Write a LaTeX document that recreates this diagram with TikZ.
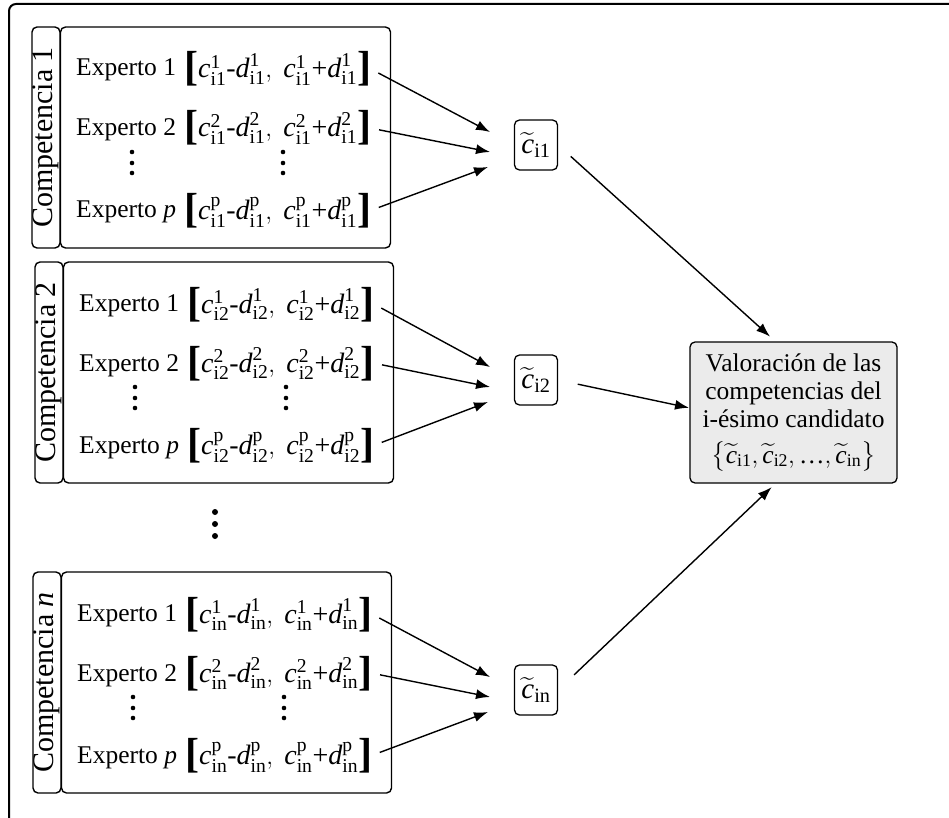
\documentclass[tikz,border=0pt]{standalone}
\usepackage{amsmath}
\usepackage{fontspec}
\setmainfont{Liberation Serif}
\usetikzlibrary{arrows.meta}
\newcommand\vc{\text{\itshape c}}
\newcommand\vd{\text{\itshape d}}
\newcommand\lbrk{\raisebox{-3pt}{\fontsize{42}{42}\selectfont\bfseries[}}
\newcommand\rbrk{\raisebox{-3pt}{\fontsize{42}{42}\selectfont\bfseries]}}
\newcommand\ival[2]{\lbrk$\vc^{\text{#1}}_{\text{#2}}\text{-}\vd^{\text{#1}}_{\text{#2}},\ \vc^{\text{#1}}_{\text{#2}}\text{+}\vd^{\text{#1}}_{\text{#2}}$\rbrk}
\newcommand\compblock[5]{%
  \node[tabbox] (t#1) at ({46+#5},{#2+110.5}) {#3};
  \node[mainbox] (m#1) at ({225.5+#5},{#2+110.5}) {};
  \node[rowtxt] (ea#1) at ({76+#5},{#2+49}) {Experto 1};
  \node[ivtxt] (xa#1) at ({184+#5},{#2+51}) {\ival{1}{#4}};
  \node[rowtxt] (eb#1) at ({76+#5},{#2+109}) {Experto 2};
  \node[ivtxt] (xb#1) at ({184+#5},{#2+110}) {\ival{2}{#4}};
  \node[rowtxt] (ep#1) at ({76+#5},{#2+191}) {Experto \textit{p}};
  \node[ivtxt] (xp#1) at ({184+#5},{#2+192}) {\ival{p}{#4}};
  \foreach \dy in {125,136,146}{
    \fill ({132+#5},{#2+\dy}) circle (2.3);
    \fill ({283+#5},{#2+\dy}) circle (2.3);
  }
  \node[cbox] (c#1) at (536,{#2+118}) {$\widetilde{\vc}_{\text{#4}}$};
  \coordinate (ka#1) at (490,{#2+105});
  \coordinate (kb#1) at (490,{#2+125});
  \coordinate (kp#1) at (488,{#2+140});
  \draw[arr] (xa#1.east) -- (ka#1);
  \draw[arr] (xb#1.east) -- (kb#1);
  \draw[arr] (xp#1.east) -- (kp#1);
}
\begin{document}
\begin{tikzpicture}[x=1pt,y=-1pt,
  tabbox/.style={draw, line width=1.4pt, rounded corners=5pt, rotate=90,
    minimum width=221pt, minimum height=28pt, inner sep=0pt,
    font=\fontsize{30}{30}\selectfont},
  mainbox/.style={draw, line width=1.4pt, rounded corners=5pt,
    minimum width=330pt, minimum height=221pt, inner sep=0pt},
  rowtxt/.style={anchor=base west, inner sep=0pt, font=\fontsize{25.5}{30}\selectfont},
  ivtxt/.style={anchor=base west, inner sep=0pt, font=\fontsize{28}{30}\selectfont},
  cbox/.style={draw, line width=1.3pt, rounded corners=5pt, minimum width=43pt,
    minimum height=50pt, inner sep=2pt, font=\fontsize{29}{30}\selectfont},
  rbox/.style={draw, line width=1.3pt, rounded corners=5pt, fill=black!8,
    minimum width=207pt, minimum height=141pt, inner sep=2pt, align=center,
    font=\fontsize{25.5}{28}\selectfont},
  arr/.style={line width=1.4pt, -{Latex[length=14pt,width=10pt]}, shorten <=8pt}
]
\useasboundingbox (0,0) rectangle (949,818);
\begin{scope}
  \clip (0,0) rectangle (949,818);
  \draw[line width=2pt, rounded corners=7pt] (9,4) rectangle (1000,900);
\end{scope}

\compblock{1}{27}{Competencia 1}{i1}{0}
\compblock{2}{262}{Competencia 2}{i2}{3}
\compblock{n}{572}{Competencia \textit{n}}{in}{1}

\foreach \yy in {512,524,536}{\fill (215,\yy) circle (3);}

\node[rbox] (V) at (793.5,412.5) {Valoración de las\\competencias del\\i-ésimo candidato\\[8pt]
  $\bigl\{\widetilde{\vc}_{\text{i1}},\widetilde{\vc}_{\text{i2}},\text{…},\widetilde{\vc}_{\text{in}}\bigr\}$};

\coordinate (va) at (776,342);
\coordinate (vb) at (690,408);
\coordinate (vc) at (776,483);
\draw[arr, shorten <=17pt, shorten >=8pt] (c1.east) -- (va);
\draw[arr, shorten <=20pt, shorten >=1pt] (c2.east) -- (vb);
\draw[arr, shorten <=22pt, shorten >=6pt] (cn.east) -- (vc);
\end{tikzpicture}
\end{document}
